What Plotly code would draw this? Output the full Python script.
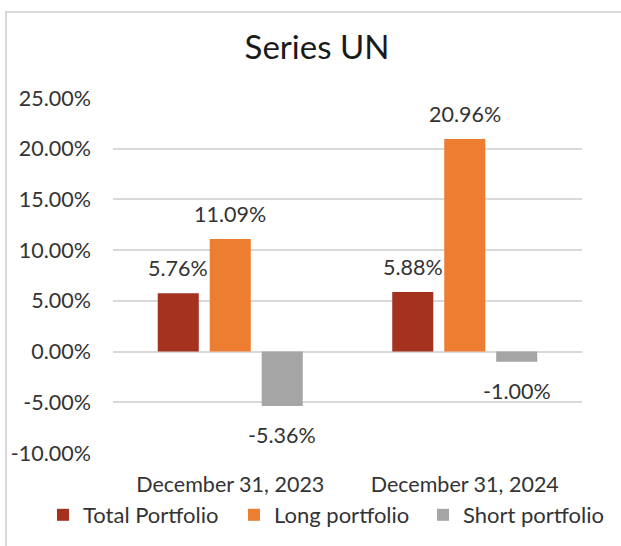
import plotly.graph_objects as go

categories = ["December 31, 2023", "December 31, 2024"]
series_names = ["Total Portfolio", "Long portfolio", "Short portfolio"]
total_portfolio = [0.0576, 0.0588]
long_portfolio = [0.1109, 0.2096]
short_portfolio = [-0.0536, -0.0100]
colors = ["#A5321F", "#ED7D31", "#A5A5A5"]
tick_vals = [-0.10, -0.05, 0.0, 0.05, 0.10, 0.15, 0.20, 0.25]
tick_text = [f"{v*100:.2f}%" for v in tick_vals]

FONT = "Lato"
TXT = "#333333"
W, H = 621, 546
ML, MR, MT, MB = 113, 39, 98, 93
BARGAP, BARGROUPGAP = 0.335, 0.21
LEGEND_X_PX = [43, 234, 423]
LEGEND_Y_PX = 515

fig = go.Figure()
all_series = [total_portfolio, long_portfolio, short_portfolio]
legend_ids = ["legend", "legend2", "legend3"]
for name, vals, col, lg in zip(series_names, all_series, colors, legend_ids):
    fig.add_trace(go.Bar(x=categories, y=vals, name=name, marker_color=col,
                         marker_line_width=0, hoverinfo="skip", legend=lg))

plot_w = W - ML - MR
plot_h = H - MT - MB
cat_w = plot_w / len(categories)
slot = cat_w * (1 - BARGAP) / len(all_series)
annotations = []
for i, vals in enumerate(all_series):
    xs = (i - (len(all_series) - 1) / 2) * slot
    for c, v in zip(categories, vals):
        annotations.append(dict(x=c, y=v, xref="x", yref="y", text=f"{v*100:.2f}%",
                                showarrow=False, xshift=xs,
                                yshift=25 if v >= 0 else -29,
                                yanchor="middle", xanchor="center",
                                font=dict(family=FONT, size=21.5, color=TXT)))

legend_style = dict(orientation="h", xref="container", yref="container",
                    xanchor="left", yanchor="middle", y=1 - LEGEND_Y_PX / H,
                    font=dict(family=FONT, size=22, color=TXT), bgcolor="rgba(0,0,0,0)")

fig.update_layout(
    width=W, height=H,
    margin=dict(l=ML, r=MR, t=MT, b=MB, autoexpand=False),
    paper_bgcolor="white", plot_bgcolor="white",
    barmode="group", bargap=BARGAP, bargroupgap=BARGROUPGAP,
    title=dict(text="Series UN", x=317 / W, xanchor="center", y=1 - 47 / H, yanchor="middle",
               font=dict(family=FONT, size=33, color="#1A1A1A")),
    font=dict(family=FONT, color=TXT),
    showlegend=True,
    legend=dict(x=LEGEND_X_PX[0] / W, **legend_style),
    legend2=dict(x=LEGEND_X_PX[1] / W, **legend_style),
    legend3=dict(x=LEGEND_X_PX[2] / W, **legend_style),
    annotations=annotations,
    shapes=[dict(type="rect", xref="paper", yref="paper",
                 x0=(6 - ML) / plot_w, x1=(W + 20 - ML) / plot_w,
                 y0=-(MB + 20) / plot_h, y1=(H - MB - 12) / plot_h,
                 line=dict(color="#D9D9D9", width=2), layer="below")],
)
fig.update_yaxes(range=[-0.10, 0.25], tickvals=tick_vals, ticktext=tick_text,
                 showgrid=True, gridcolor="#D9D9D9", gridwidth=1.5,
                 zeroline=True, zerolinecolor="#D9D9D9", zerolinewidth=1.5,
                 showline=False, ticks="", ticklabelstandoff=21,
                 tickfont=dict(family=FONT, size=21.5, color=TXT))
fig.update_xaxes(showline=False, ticks="", ticklabelstandoff=16,
                 tickfont=dict(family=FONT, size=21.5, color=TXT))

fig.write_html("out.html", config={"displayModeBar": False},
               post_script="document.body.style.margin='0';")
